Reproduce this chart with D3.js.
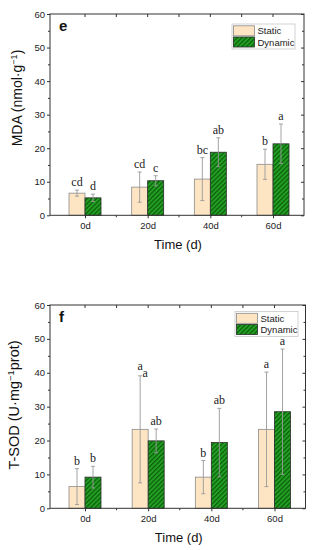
<!DOCTYPE html>
<html>
<head>
<meta charset="utf-8">
<script src="https://cdn.jsdelivr.net/npm/d3@7"></script>
<style>
  body { margin: 0; background: #fff; }
  svg { display: block; }
  .sans { font-family: "Liberation Sans", Arial, sans-serif; }
  .serif { font-family: "Liberation Serif", "Times New Roman", serif; }
</style>
</head>
<body>
<script>
const days = ["0d", "20d", "40d", "60d"];
const yTicks = [0, 10, 20, 30, 40, 50, 60];
const seriesNames = ["Static", "Dynamic"];

// panel e: MDA
const mdaStatic = [6.6, 8.4, 10.8, 15.2];
const mdaStaticErr = [0.9, 4.5, 6.4, 4.5];
const mdaDynamic = [5.2, 10.3, 18.8, 21.3];
const mdaDynamicErr = [1.1, 1.5, 4.3, 5.9];
const mdaStaticLetters = ["cd", "cd", "bc", "b"];
const mdaDynamicLetters = ["d", "c", "ab", "a"];

// panel f: T-SOD
const sodStatic = [6.4, 23.3, 9.2, 23.3];
const sodStaticErr = [5.3, 15.8, 4.9, 16.9];
const sodDynamic = [9.2, 19.9, 19.4, 28.5];
const sodDynamicErr = [3.2, 3.5, 10.1, 18.5];
const sodStaticLetters = ["b", "a_a", "b", "a"];   // "_" = second letter set a bit lower
const sodDynamicLetters = ["b", "ab", "ab", "a"];

const svg = d3.select("body").append("svg")
    .attr("width", 313)
    .attr("height", 550);

const defs = svg.append("defs");
const hatch = defs.append("pattern")
    .attr("id", "hatch")
    .attr("patternUnits", "userSpaceOnUse")
    .attr("width", 3.2)
    .attr("height", 3.2)
    .attr("patternTransform", "rotate(45)");
hatch.append("rect").attr("width", 3.2).attr("height", 3.2).attr("fill", "#23a023");
hatch.append("line")
    .attr("x1", 0.6).attr("y1", 0).attr("x2", 0.6).attr("y2", 3.2)
    .attr("stroke", "#0b5c0b").attr("stroke-width", 1.2);

const fills = { Static: "#fde4c3", Dynamic: "url(#hatch)" };
const strokes = { Static: "#8c8c8c", Dynamic: "#2a2a2a" };

function drawPanel(cfg) {
    const g = svg.append("g");
    const barW = 16;

    const x = d3.scalePoint()
        .domain(days)
        .range([cfg.left + 35, cfg.right - 31]);
    const y = d3.scaleLinear()
        .domain([0, 60])
        .range([cfg.bottom, cfg.top]);

    const step = x.step();
    const minorX = days.slice(0, -1).map(d => x(d) + step / 2);
    const minorY = d3.range(5, 60, 10);

    // bars
    const series = [
        { name: "Static", vals: cfg.s, err: cfg.se, letters: cfg.sl, off: -barW },
        { name: "Dynamic", vals: cfg.d, err: cfg.de, letters: cfg.dl, off: 0 }
    ];

    series.forEach(s => {
        g.selectAll(null)
            .data(days)
            .enter()
            .append("rect")
            .attr("x", d => x(d) + s.off)
            .attr("y", (d, i) => y(s.vals[i]))
            .attr("width", barW)
            .attr("height", (d, i) => y(0) - y(s.vals[i]))
            .attr("fill", fills[s.name])
            .attr("stroke", strokes[s.name])
            .attr("stroke-width", 0.8);
    });

    // error bars + letters
    series.forEach(s => {
        days.forEach((d, i) => {
            const cx = x(d) + s.off + barW / 2;
            const hi = y(s.vals[i] + s.err[i]);
            const lo = y(Math.max(0, s.vals[i] - s.err[i]));
            g.append("line")
                .attr("x1", cx).attr("x2", cx).attr("y1", hi).attr("y2", lo)
                .attr("stroke", "#9a9a9a").attr("stroke-width", 0.9);
            [hi, lo].forEach(yy => {
                g.append("line")
                    .attr("x1", cx - 2).attr("x2", cx + 2).attr("y1", yy).attr("y2", yy)
                    .attr("stroke", "#9a9a9a").attr("stroke-width", 0.9);
            });
            const parts = s.letters[i].split("_");
            const t = g.append("text")
                .attr("class", "serif")
                .attr("x", cx)
                .attr("y", hi - 4)
                .attr("text-anchor", "middle")
                .attr("font-size", 12)
                .attr("fill", "#222")
                .text(parts[0]);
            if (parts[1]) {
                g.append("text")
                    .attr("class", "serif")
                    .attr("x", cx + 5)
                    .attr("y", hi + 1)
                    .attr("text-anchor", "middle")
                    .attr("font-size", 12)
                    .attr("fill", "#222")
                    .text(parts[1]);
                t.attr("y", hi - 6);
            }
        });
    });

    // frame
    g.append("rect")
        .attr("x", cfg.left).attr("y", cfg.top)
        .attr("width", cfg.right - cfg.left).attr("height", cfg.bottom - cfg.top)
        .attr("fill", "none").attr("stroke", "#333").attr("stroke-width", 1);

    // left axis (outward) and right axis (inward)
    g.append("g")
        .attr("transform", `translate(${cfg.left},0)`)
        .call(d3.axisLeft(y).tickValues(yTicks).tickSize(3).tickPadding(2))
        .call(a => a.select(".domain").remove())
        .call(a => a.selectAll("text").attr("class", "sans").attr("font-size", 9.5).attr("fill", "#222"));
    g.append("g")
        .attr("transform", `translate(${cfg.left},0)`)
        .call(d3.axisLeft(y).tickValues(minorY).tickSize(2).tickFormat(""))
        .call(a => a.select(".domain").remove());
    g.append("g")
        .attr("transform", `translate(${cfg.right},0)`)
        .call(d3.axisLeft(y).tickValues(yTicks).tickSize(3).tickFormat(""))
        .call(a => a.select(".domain").remove());
    g.append("g")
        .attr("transform", `translate(${cfg.right},0)`)
        .call(d3.axisLeft(y).tickValues(minorY).tickSize(2).tickFormat(""))
        .call(a => a.select(".domain").remove());

    // bottom axis (outward) and top (inward)
    g.append("g")
        .attr("transform", `translate(0,${cfg.bottom})`)
        .call(d3.axisBottom(x).tickSize(3).tickPadding(4))
        .call(a => a.select(".domain").remove())
        .call(a => a.selectAll("text").attr("class", "sans").attr("font-size", 9.5).attr("fill", "#222"));
    minorX.forEach(mx => {
        g.append("line").attr("x1", mx).attr("x2", mx)
            .attr("y1", cfg.bottom).attr("y2", cfg.bottom + 2).attr("stroke", "#333");
    });
    x.domain().map(x).concat(minorX).forEach(mx => {
        g.append("line").attr("x1", mx).attr("x2", mx)
            .attr("y1", cfg.top).attr("y2", cfg.top + 3).attr("stroke", "#333");
    });
    g.selectAll(".tick line").attr("stroke", "#333");

    // titles
    g.append("text")
        .attr("class", "sans")
        .attr("x", (cfg.left + cfg.right) / 2 + 1)
        .attr("y", cfg.bottom + 34)
        .attr("text-anchor", "middle")
        .attr("font-size", 13)
        .attr("fill", "#111")
        .text("Time (d)");

    const yt = g.append("text")
        .attr("class", "sans")
        .attr("transform", `translate(${cfg.titleX},${cfg.titleY}) rotate(-90)`)
        .attr("text-anchor", "middle")
        .attr("font-size", cfg.titleSize)
        .attr("fill", "#111");
    yt.append("tspan").text(cfg.yTitle[0]);
    yt.append("tspan").attr("dy", -5).attr("font-size", cfg.titleSize * 0.65).text("\u22121");
    yt.append("tspan").attr("dy", 5).text(cfg.yTitle[1]);

    g.append("text")
        .attr("class", "sans")
        .attr("x", cfg.left + 9)
        .attr("y", cfg.top + 17)
        .attr("font-size", 15)
        .attr("font-weight", "bold")
        .attr("fill", "#111")
        .text(cfg.letter);

    // legend
    const lg = g.append("g").attr("transform", `translate(${cfg.legX},${cfg.legY})`);
    lg.append("rect")
        .attr("width", 63).attr("height", 25)
        .attr("fill", "#fff").attr("stroke", "#c8c8c8").attr("stroke-width", 0.8);
    seriesNames.forEach((n, i) => {
        lg.append("rect")
            .attr("x", 1.5).attr("y", 1.8 + i * 11.2)
            .attr("width", 21).attr("height", 10)
            .attr("fill", fills[n]).attr("stroke", strokes[n]).attr("stroke-width", 0.8);
        lg.append("text")
            .attr("class", "sans")
            .attr("x", 25.5).attr("y", 10.3 + i * 11.2)
            .attr("font-size", 9.5)
            .attr("fill", "#222")
            .text(n);
    });
}

drawPanel({
    left: 50, right: 304, top: 14, bottom: 215.3,
    s: mdaStatic, se: mdaStaticErr, d: mdaDynamic, de: mdaDynamicErr,
    sl: mdaStaticLetters, dl: mdaDynamicLetters,
    yTitle: ["MDA (nmol\u00b7g", ")"], titleX: 22, titleY: 98, titleSize: 14,
    letter: "e", legX: 232, legY: 24
});

drawPanel({
    left: 50, right: 305.5, top: 305, bottom: 508.3,
    s: sodStatic, se: sodStaticErr, d: sodDynamic, de: sodDynamicErr,
    sl: sodStaticLetters, dl: sodDynamicLetters,
    yTitle: ["T-SOD (U\u00b7mg", "prot)"], titleX: 19, titleY: 405, titleSize: 14.5,
    letter: "f", legX: 235, legY: 311.5
});
</script>
</body>
</html>
